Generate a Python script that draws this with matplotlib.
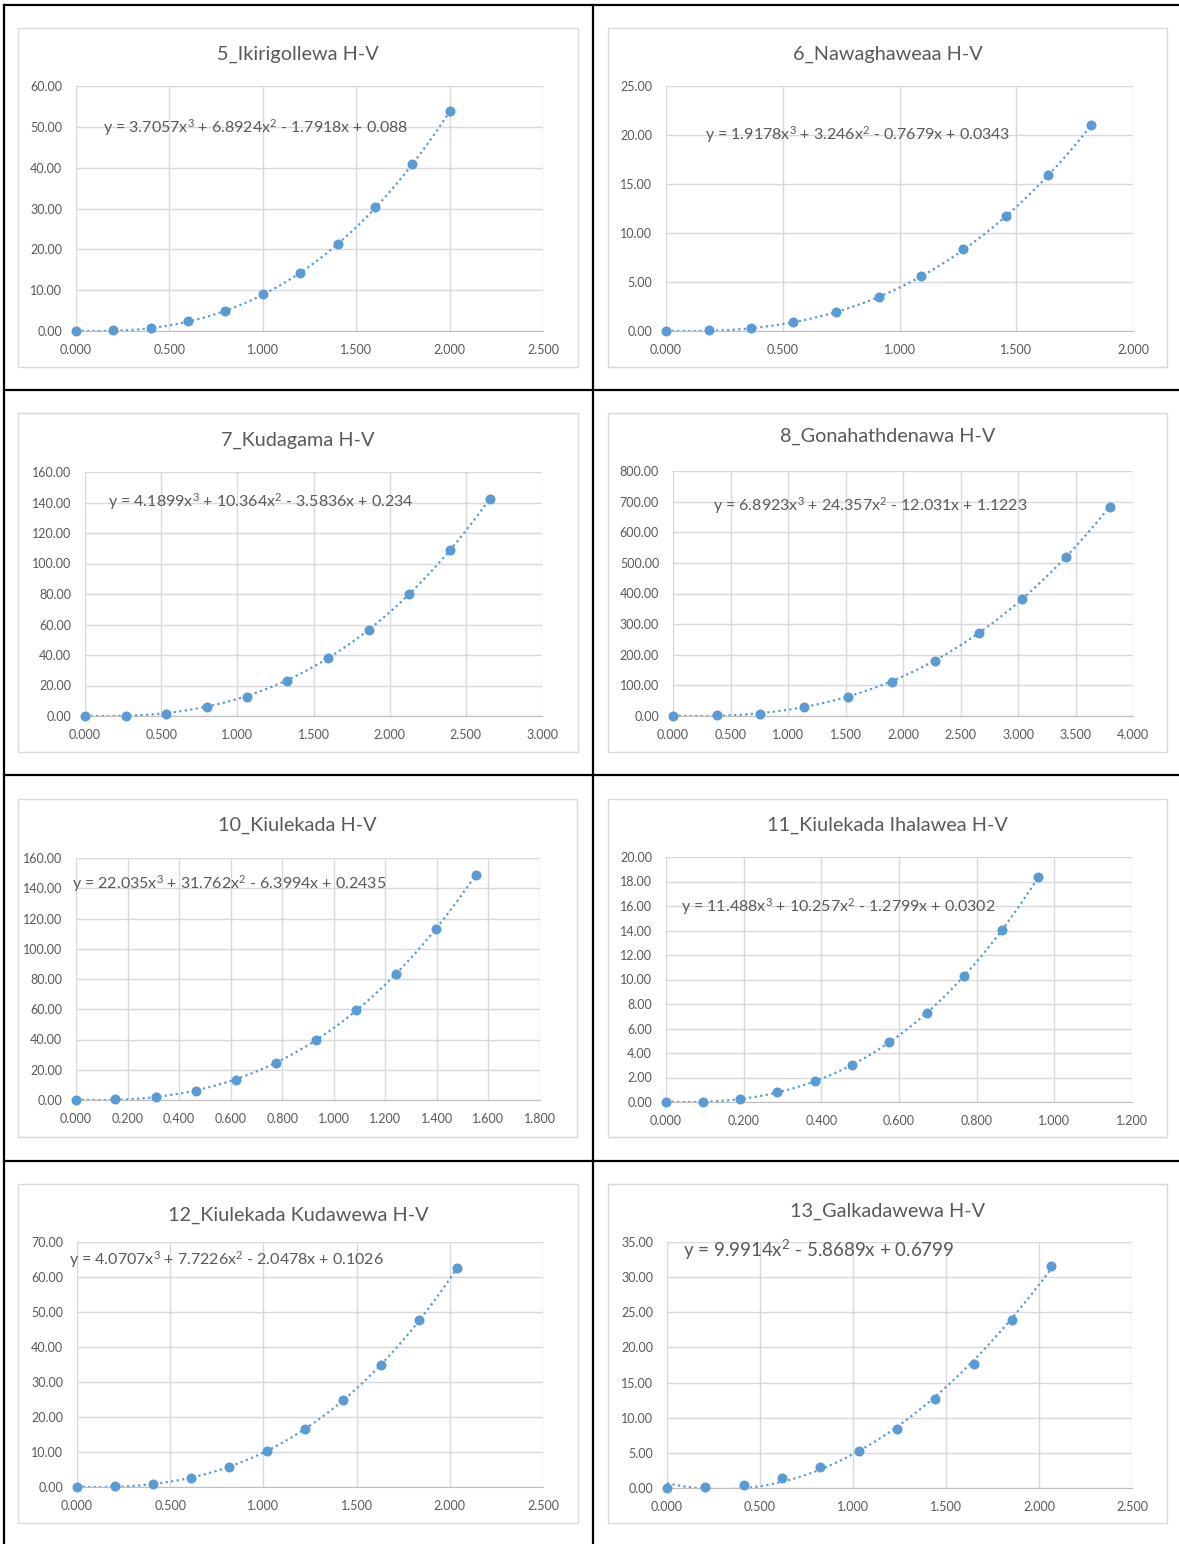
import numpy as np
import matplotlib
matplotlib.use("Agg")
import matplotlib.pyplot as plt
from matplotlib.patches import Rectangle
from matplotlib.lines import Line2D

plt.rcParams['font.family'] = ['Lato', 'DejaVu Sans']
plt.rcParams['mathtext.fontset'] = 'custom'
plt.rcParams['mathtext.rm'] = 'Lato'
plt.rcParams['mathtext.it'] = 'Lato'
plt.rcParams['mathtext.default'] = 'regular'

W, H = 1179, 1544

# ---- data ----
titles = ["5_Ikirigollewa H-V", "6_Nawaghaweaa H-V", "7_Kudagama H-V", "8_Gonahathdenawa H-V",
          "10_Kiulekada H-V", "11_Kiulekada Ihalawea H-V", "12_Kiulekada Kudawewa H-V",
          "13_Galkadawewa H-V"]

x5 = [0.0, 0.2, 0.4, 0.6, 0.8, 1.0, 1.2, 1.4, 1.6, 1.8, 2.0]
y5 = [0.1, 0.15, 0.7, 2.4, 5.0, 9.0, 14.3, 21.3, 30.3, 40.9, 53.9]

x6 = [0.0, 0.183, 0.365, 0.545, 0.728, 0.912, 1.09, 1.273, 1.455, 1.635, 1.818]
y6 = [0.03, 0.1, 0.34, 0.92, 1.94, 3.5, 5.58, 8.33, 11.73, 15.95, 21.0]

x7 = [0.0, 0.266, 0.533, 0.799, 1.065, 1.329, 1.598, 1.862, 2.126, 2.397, 2.661]
y7 = [0.0, 0.05, 1.3, 5.9, 12.4, 23.1, 37.8, 56.5, 79.9, 108.7, 142.5]

x8 = [0.0, 0.379, 0.759, 1.138, 1.521, 1.900, 2.280, 2.659, 3.038, 3.421, 3.800]
y8 = [0.0, 2.2, 7.6, 28.3, 61.0, 112.0, 180.0, 270.0, 382.6, 518.8, 683.4]

x10 = [0.0, 0.153, 0.309, 0.464, 0.621, 0.774, 0.930, 1.085, 1.242, 1.395, 1.551]
y10 = [0.0, 0.4, 2.0, 6.2, 13.4, 24.2, 39.6, 59.2, 83.2, 112.9, 148.8]

x11 = [0.0, 0.0957, 0.191, 0.287, 0.384, 0.480, 0.575, 0.672, 0.768, 0.864, 0.959]
y11 = [0.0, 0.03, 0.22, 0.79, 1.69, 3.0, 4.88, 7.30, 10.27, 14.03, 18.39]

x12 = [0.0, 0.203, 0.408, 0.613, 0.816, 1.019, 1.224, 1.427, 1.632, 1.836, 2.041]
y12 = [0.0, 0.19, 0.86, 2.66, 5.8, 10.37, 16.64, 24.8, 35.0, 47.65, 62.5]

x13 = [0.0, 0.206, 0.414, 0.618, 0.825, 1.033, 1.237, 1.441, 1.651, 1.855, 2.063]
y13 = [0.0, 0.1, 0.43, 1.43, 3.0, 5.28, 8.42, 12.6, 17.7, 23.97, 31.6]

# trendline coefficients (from the equations shown)
coef5 = [3.7057, 6.8924, -1.7918, 0.088]
coef6 = [1.9178, 3.246, -0.7679, 0.0343]
coef7 = [4.1899, 10.364, -3.5836, 0.234]
coef8 = [6.8923, 24.357, -12.031, 1.1223]
coef10 = [22.035, 31.762, -6.3994, 0.2435]
coef11 = [11.488, 10.257, -1.2799, 0.0302]
coef12 = [4.0707, 7.7226, -2.0478, 0.1026]
coef13 = [9.9914, -5.8689, 0.6799]

equations = [r"y = 3.7057x$^{3}$ + 6.8924x$^{2}$ - 1.7918x + 0.088",
             r"y = 1.9178x$^{3}$ + 3.246x$^{2}$ - 0.7679x + 0.0343",
             r"y = 4.1899x$^{3}$ + 10.364x$^{2}$ - 3.5836x + 0.234",
             r"y = 6.8923x$^{3}$ + 24.357x$^{2}$ - 12.031x + 1.1223",
             r"y = 22.035x$^{3}$ + 31.762x$^{2}$ - 6.3994x + 0.2435",
             r"y = 11.488x$^{3}$ + 10.257x$^{2}$ - 1.2799x + 0.0302",
             r"y = 4.0707x$^{3}$ + 7.7226x$^{2}$ - 2.0478x + 0.1026",
             r"y = 9.9914x$^{2}$ - 5.8689x + 0.6799"]

xs = [x5, x6, x7, x8, x10, x11, x12, x13]
ys = [y5, y6, y7, y8, y10, y11, y12, y13]
coefs = [coef5, coef6, coef7, coef8, coef10, coef11, coef12, coef13]

x_max = [2.5, 2.0, 3.0, 4.0, 1.8, 1.2, 2.5, 2.5]
x_step = [0.5, 0.5, 0.5, 0.5, 0.2, 0.2, 0.5, 0.5]
y_max = [60, 25, 160, 800, 160, 20, 70, 35]
y_step = [10, 5, 20, 100, 20, 2, 10, 5]

# ---- layout (pixels) ----
# plot area: left, top, right, bottom
plot_px = [(76, 86, 543, 331), (666, 86, 1133, 331),
           (85, 472, 542, 716), (673, 471, 1133, 716),
           (76, 858, 540, 1100), (666, 857, 1132, 1102),
           (77, 1242, 543, 1487), (667, 1242, 1132, 1488)]
frame_px = [(18, 28, 578, 367), (608, 28, 1167, 367),
            (18, 413, 578, 752), (608, 413, 1167, 752),
            (18, 799, 577, 1137), (608, 799, 1167, 1137),
            (18, 1184, 578, 1523), (608, 1184, 1167, 1523)]
title_y = [54, 54, 440, 436, 825, 825, 1215, 1211]
eq_pos = [(0.058, 0.829), (0.084, 0.80), (0.05, 0.877), (0.086, 0.857),
          (-0.008, 0.893), (0.032, 0.796), (-0.017, 0.93), (0.034, 0.967)]
eq_size = [11.5, 11.5, 11.5, 11.5, 11.5, 11.5, 11.5, 13.5]

BLUE = "#5b9bd5"
GRID = "#d9d9d9"
TXT = "#595959"

fig = plt.figure(figsize=(W / 100, H / 100), dpi=100)

def fx(px):
    return px / W

def fy(py):
    return 1 - py / H

# table borders
for seg in [((4, 4), (5, H)), ((4, W), (5, 5)), ((593, 593), (5, H)),
            ((4, W), (390, 390)), ((4, W), (775, 775)), ((4, W), (1161, 1161))]:
    fig.add_artist(Line2D([fx(seg[0][0]), fx(seg[0][1])], [fy(seg[1][0]), fy(seg[1][1])],
                          color="black", lw=1.6, transform=fig.transFigure))

for i in range(8):
    l, t, r, b = frame_px[i]
    fig.add_artist(Rectangle((fx(l), fy(b)), fx(r - l), (b - t) / H, transform=fig.transFigure,
                             fill=False, edgecolor=GRID, lw=1.0))
    fig.text(fx((l + r) / 2), fy(title_y[i]), titles[i], ha="center", va="center",
             fontsize=14.3, color=TXT)

    pl, pt, pr, pb = plot_px[i]
    ax = fig.add_axes([fx(pl), fy(pb), fx(pr - pl), (pb - pt) / H])
    ax.set_xlim(0, x_max[i])
    ax.set_ylim(0, y_max[i])
    ax.set_xticks(np.arange(0, x_max[i] + 1e-9, x_step[i]))
    ax.set_yticks(np.arange(0, y_max[i] + 1e-9, y_step[i]))
    ax.xaxis.set_major_formatter(matplotlib.ticker.FormatStrFormatter("%.3f"))
    ax.yaxis.set_major_formatter(matplotlib.ticker.FormatStrFormatter("%.2f"))
    ax.tick_params(length=0, labelsize=9, labelcolor=TXT)
    ax.tick_params(axis="x", pad=9.5)
    ax.tick_params(axis="y", pad=10)
    ax.grid(True, color=GRID, lw=1.0)
    ax.set_axisbelow(True)
    for s in ["top", "right", "left"]:
        ax.spines[s].set_visible(False)
    ax.spines["bottom"].set_color("#bfbfbf")

    xx = np.linspace(0, max(xs[i]), 200)
    ax.plot(xx, np.polyval(coefs[i], xx), linestyle=(0, (1, 1.5)), color=BLUE, lw=1.6,
            clip_on=True)
    ax.scatter(xs[i], ys[i], s=52, color=BLUE, zorder=3, clip_on=False, linewidths=0)
    ax.text(eq_pos[i][0], eq_pos[i][1], equations[i], transform=ax.transAxes,
            ha="left", va="center", fontsize=eq_size[i], color=TXT)

fig.savefig("out.png", dpi=100)
